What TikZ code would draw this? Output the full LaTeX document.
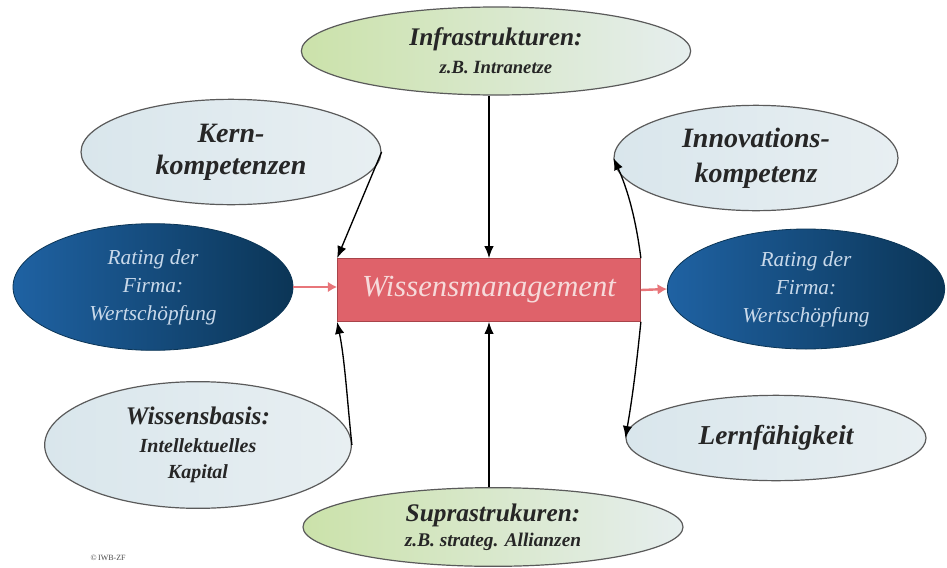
\documentclass[tikz,border=0pt]{standalone}
\usepackage{fontspec}
\setmainfont{Liberation Serif}
\usetikzlibrary{shapes.geometric,arrows.meta}
\definecolor{lblue}{HTML}{D9E6EC}
\definecolor{lblue2}{HTML}{E8EFF2}
\definecolor{lgreen}{HTML}{CBE2AA}
\definecolor{lgreen2}{HTML}{E6EEEE}
\definecolor{dblueL}{HTML}{1F62A3}
\definecolor{dblueR}{HTML}{0B3556}
\definecolor{rectred}{HTML}{DF626A}
\definecolor{rectedge}{HTML}{A8444A}
\definecolor{pinkarrow}{HTML}{E8767A}
\definecolor{ratingtext}{HTML}{C9D9EA}
\definecolor{wmtext}{HTML}{F6DADA}
\definecolor{edgegray}{HTML}{5A5A5A}
\tikzset{
  lightell/.style={ellipse, draw=edgegray, line width=0.9pt, inner sep=0pt, left color=lblue, right color=lblue2, align=center, text=black!85},
  greenell/.style={ellipse, draw=edgegray, line width=0.9pt, inner sep=0pt, left color=lgreen, right color=lgreen2, align=center, text=black!85},
  darkell/.style={ellipse, draw=dblueR, line width=0.6pt, inner sep=0pt, left color=dblueL, right color=dblueR, align=center, text=ratingtext, font=\itshape\fontsize{16}{21}\selectfont},
  conn/.style={draw=black, line width=1pt, -{Latex[length=9pt,width=7pt]}},
  pinkconn/.style={draw=pinkarrow, line width=1.8pt, -{Latex[length=7pt,width=8pt]}},
}
\begin{document}
\begin{tikzpicture}[x=0.75pt,y=-0.75pt]
\useasboundingbox[fill=white] (0,0) rectangle (947,568);
% nodes
\node[greenell, minimum width=292pt, minimum height=66pt, font=\bfseries\itshape\fontsize{19}{23}\selectfont] (infra) at (496,51)
  {Infrastrukturen:\\[-2pt]{\fontsize{14}{16}\selectfont z.B. Intranetze}};
\node[lightell, minimum width=225pt, minimum height=79pt, font=\bfseries\itshape\fontsize{21}{24}\selectfont] (kern) at (231,152)
  {Kern-\\ kompetenzen};
\node[lightell, minimum width=213pt, minimum height=79pt, font=\bfseries\itshape\fontsize{21}{26}\selectfont] (inno) at (756,158)
  {Innovations-\\ kompetenz};
\node[darkell, minimum width=210pt, minimum height=95pt] (ratl) at (153,287)
  {Rating der\\ Firma:\\ Wertschöpfung};
\node[darkell, minimum width=208pt, minimum height=90pt] (ratr) at (806,289)
  {Rating der\\ Firma:\\ Wertschöpfung};
\node[draw=rectedge, line width=0.8pt, fill=rectred, minimum width=227pt, minimum height=47pt, inner sep=0pt,
  text=wmtext, font=\itshape\fontsize{23}{28}\selectfont] (wm) at (489,290) {Wissensmanagement};
\node[lightell, minimum width=230pt, minimum height=95pt, font=\bfseries\itshape\fontsize{19}{19}\selectfont] (wb) at (198,445)
  {Wissensbasis:\\[2pt]{\fontsize{15}{18}\selectfont Intellektuelles}\\{\fontsize{15}{18}\selectfont Kapital}};
\node[lightell, minimum width=225pt, minimum height=64pt, font=\bfseries\itshape\fontsize{20.5}{24}\selectfont] (lern) at (776,438)
  {Lernfähigkeit};
\node[greenell, minimum width=285pt, minimum height=59pt, font=\bfseries\itshape\fontsize{19}{21}\selectfont] (supra) at (493,527)
  {Suprastrukuren:\\[-2pt]{\fontsize{14.5}{16}\selectfont z.B. strateg. Allianzen}};
\node[font=\fontsize{6}{7}\selectfont, text=black!70, anchor=west] (copy) at (86,558) {\textcopyright\,IWB-ZF};
% connectors
\draw[conn] (kern.east) -- (wm.north west);
\draw[conn] (infra.south -| wm.north) -- (wm.north);
\draw[conn] (wm.north east) .. controls (636,220) and (628,190) .. (inno.west);
\draw[conn] (wm.south east) .. controls (636,370) and (632,400) .. (lern.west);
\draw[conn] (wb.east) .. controls (348,410) and (345,360) .. (wm.south west);
\draw[conn] (supra.north -| wm.south) -- (wm.south);
\draw[pinkconn] (ratl.east) -- (wm.west |- ratl.east);
\draw[pinkconn] (wm.east) -- (ratr.west);
\end{tikzpicture}
\end{document}
